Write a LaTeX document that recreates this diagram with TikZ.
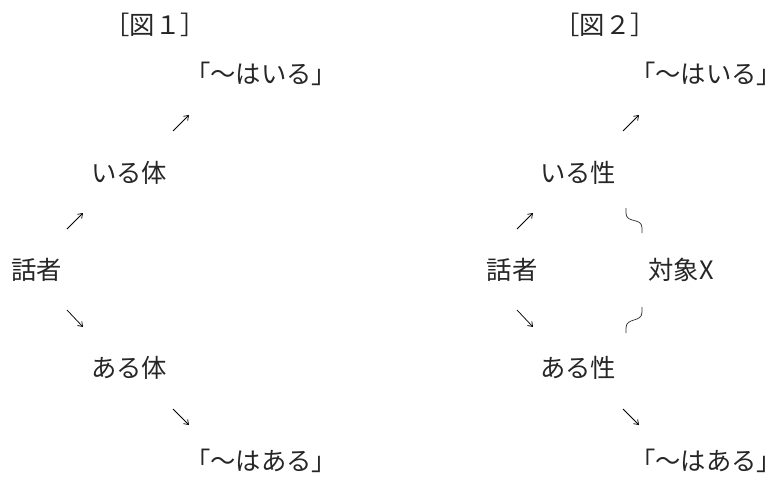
\documentclass[tikz,border=0pt]{standalone}
\usepackage{fontspec}
\newfontfamily\jp{Noto Sans CJK JP}
\usetikzlibrary{arrows.meta}
\begin{document}
\begin{tikzpicture}[x=0.75pt,y=-0.75pt,
  lbl/.style={inner sep=0pt,font=\jp\fontsize{19pt}{19pt}\selectfont,text=black!85},
  arr/.style={line width=0.55pt,-{Straight Barb[length=3.2pt,width=4.5pt]}},
  wave/.style={line width=0.55pt,black!80}]
\useasboundingbox (0,0) rectangle (778,478);
% Figure 1
\node[lbl] (t1) at (155,25) {［図１］};
\node[lbl] (i1) at (261,74) {「〜はいる」};
\node[lbl] (ib1) at (129,173) {いる体};
\node[lbl] (s1) at (37,270) {話者};
\node[lbl] (ab1) at (129,368) {ある体};
\node[lbl] (a1) at (261,461) {「〜はある」};
\coordinate (p1a) at (67,229); \coordinate (p1b) at (83,213);
\coordinate (p2a) at (173,131); \coordinate (p2b) at (189,115);
\coordinate (p3a) at (67,310); \coordinate (p3b) at (83,327);
\coordinate (p4a) at (173,409); \coordinate (p4b) at (189,425);
\draw[arr] (p1a) -- (p1b);
\draw[arr] (p2a) -- (p2b);
\draw[arr] (p3a) -- (p3b);
\draw[arr] (p4a) -- (p4b);
% Figure 2
\node[lbl] (t2) at (605,25) {［図２］};
\node[lbl] (i2) at (706,74) {「〜はいる」};
\node[lbl] (ib2) at (578,173) {いる性};
\node[lbl] (s2) at (512,270) {話者};
\node[lbl] (x2) at (681,270) {対象X};
\node[lbl] (ab2) at (578,368) {ある性};
\node[lbl] (a2) at (706,461) {「〜はある」};
\coordinate (q1a) at (517,229); \coordinate (q1b) at (533,213);
\coordinate (q2a) at (623,131); \coordinate (q2b) at (639,115);
\coordinate (q3a) at (517,310); \coordinate (q3b) at (533,327);
\coordinate (q4a) at (623,409); \coordinate (q4b) at (639,425);
\draw[arr] (q1a) -- (q1b);
\draw[arr] (q2a) -- (q2b);
\draw[arr] (q3a) -- (q3b);
\draw[arr] (q4a) -- (q4b);
\coordinate (w1a) at (626,208); \coordinate (w1b) at (642,233);
\coordinate (w2a) at (642,307); \coordinate (w2b) at (626,333);
\draw[wave] (w1a) -- (626,213) .. controls (626,224) and (642,217) .. (642,228) -- (w1b);
\draw[wave] (w2a) -- (642,312) .. controls (642,323) and (626,317) .. (626,328) -- (w2b);
\end{tikzpicture}
\end{document}
